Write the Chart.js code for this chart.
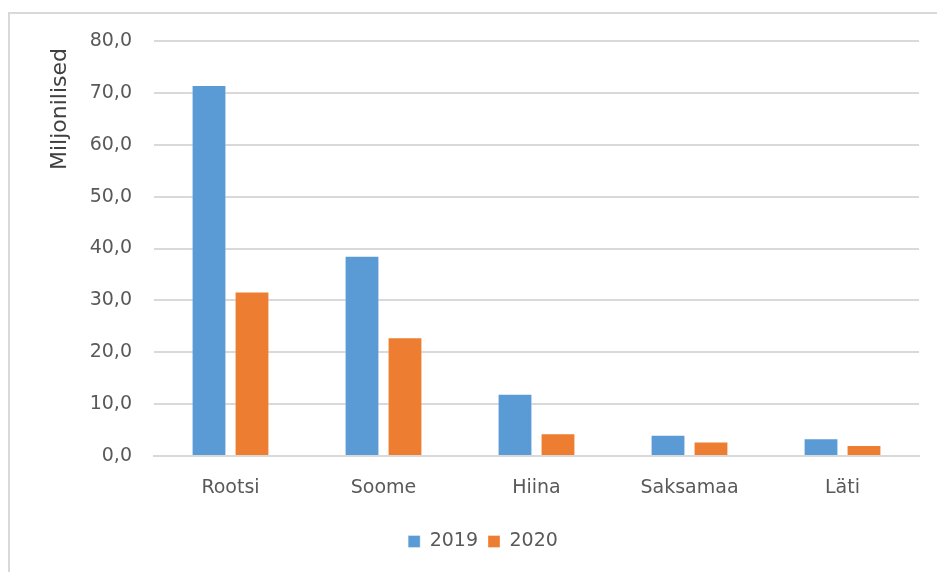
<!DOCTYPE html>
<html>
<head>
<meta charset="utf-8">
<script src="https://cdn.jsdelivr.net/npm/chart.js@4.4.1/dist/chart.umd.min.js"></script>
<style>
  html, body { margin: 0; padding: 0; background: #fff; overflow: hidden; }
  #wrap { width: 937px; height: 572px; position: relative; }
</style>
</head>
<body>
<div id="wrap"><canvas id="myBarChart" width="937" height="572"></canvas></div>
<script>
// data
const countries = ['Rootsi', 'Soome', 'Hiina', 'Saksamaa', 'Läti'];
const values2019 = [71.5, 38.6, 12.0, 4.1, 3.4];
const values2020 = [31.7, 22.9, 4.4, 2.8, 2.1];
const yTickLabels = ['0,0', '10,0', '20,0', '30,0', '40,0', '50,0', '60,0', '70,0', '80,0'];

Chart.defaults.font.family = 'DejaVu Sans';
Chart.defaults.color = '#595959';

// light grey frame round the chart, only its left and top edge are in the picture
const framePlugin = {
    id: 'frame',
    beforeDraw: function(chart) {
        const ctx = chart.ctx;
        ctx.save();
        ctx.fillStyle = '#ffffff';
        ctx.fillRect(0, 0, chart.width, chart.height);
        ctx.strokeStyle = '#D9D9D9';
        ctx.lineWidth = 2;
        ctx.beginPath();
        ctx.moveTo(9, chart.height + 5);
        ctx.lineTo(9, 13);
        ctx.lineTo(chart.width + 5, 13);
        ctx.stroke();
        ctx.restore();
    }
};

const ctx = document.getElementById('myBarChart').getContext('2d');
new Chart(ctx, {
    type: 'bar',
    data: {
        labels: countries,
        datasets: [{
            label: '2019',
            data: values2019,
            backgroundColor: '#5B9BD5',
            borderColor: 'rgba(255, 255, 255, 0.35)',
            borderWidth: 1
        }, {
            label: '2020',
            data: values2020,
            backgroundColor: '#ED7D31',
            borderColor: 'rgba(255, 255, 255, 0.35)',
            borderWidth: 1
        }]
    },
    options: {
        responsive: false,
        animation: false,
        layout: {
            padding: { left: 47, right: 18, top: 41, bottom: 11 }
        },
        datasets: {
            bar: { categoryPercentage: 0.562, barPercentage: 0.81 }
        },
        scales: {
            x: {
                grid: { display: false, drawTicks: false },
                border: { display: true, color: '#D9D9D9', width: 2 },
                ticks: { padding: 21, font: { size: 19 }, color: '#595959' },
                afterFit: function(scale) { scale.height = 66; }
            },
            y: {
                min: 0,
                max: 80,
                ticks: {
                    stepSize: 10,
                    padding: 22,
                    font: { size: 19 },
                    color: '#595959',
                    callback: function(value, index) { return yTickLabels[index]; }
                },
                grid: { color: '#D9D9D9', lineWidth: 2, drawTicks: false },
                border: { display: false },
                title: {
                    display: true,
                    text: 'Miljonilised ',
                    align: 'end',
                    padding: { top: 0, bottom: 0 },
                    font: { size: 22 },
                    color: '#404040'
                },
                afterFit: function(scale) { scale.width = 107; }
            }
        },
        plugins: {
            legend: {
                position: 'bottom',
                labels: {
                    boxWidth: 12,
                    boxHeight: 12,
                    padding: 10,
                    font: { size: 19 },
                    color: '#595959'
                }
            },
            tooltip: { enabled: false }
        }
    },
    plugins: [framePlugin]
});
</script>
</body>
</html>
